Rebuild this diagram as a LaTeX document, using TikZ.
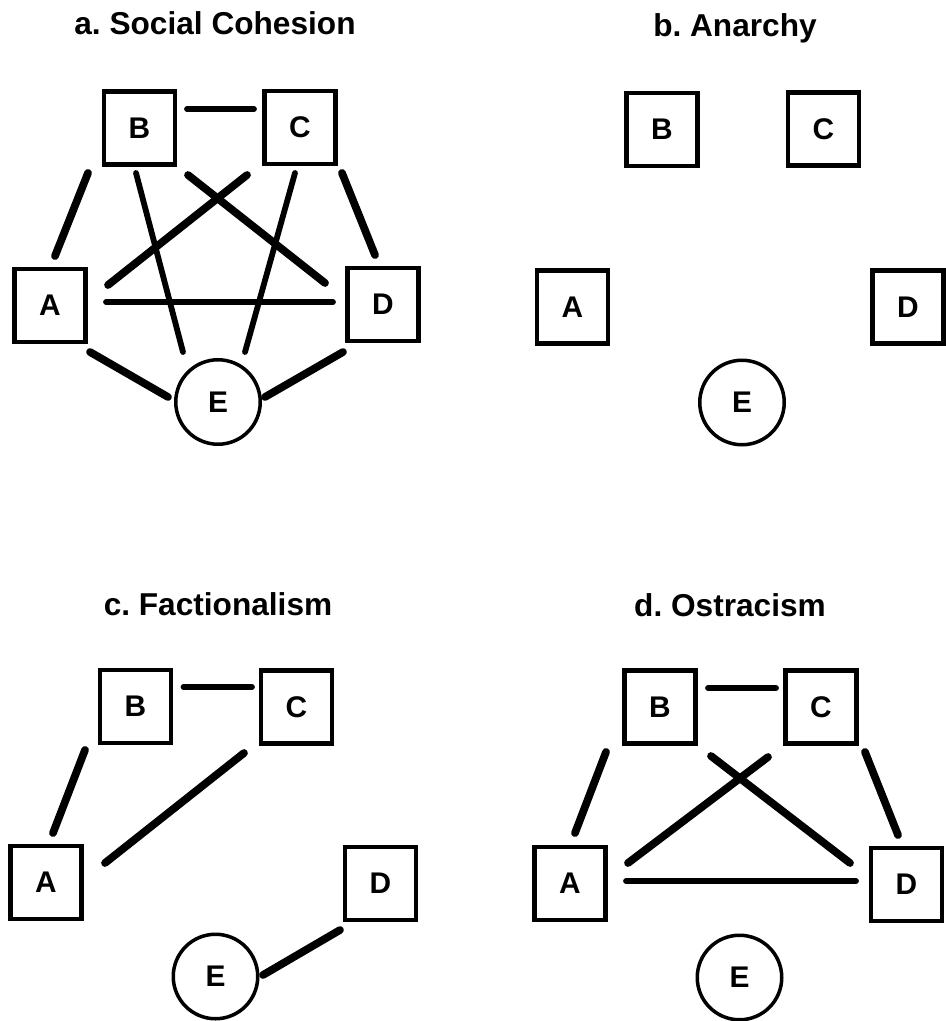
\documentclass[tikz,border=0pt]{standalone}
\usepackage{fontspec}
\setmainfont{Liberation Sans}
\usetikzlibrary{calc}
\frenchspacing

\begin{document}
\begin{tikzpicture}
    [
    x=0.02cm,
    y=-0.02cm,
    actor/.style={
        rectangle,
        draw=black,
        line width=2.8pt,
        minimum width=1.42cm,
        minimum height=1.46cm,
        inner sep=0pt,
        font=\bfseries\fontsize{17}{18}\selectfont
    },
    ego/.style={
        circle,
        draw=black,
        line width=2pt,
        minimum size=1.69cm,
        inner sep=0pt,
        font=\bfseries\fontsize{17}{18}\selectfont
    },
    heading/.style={anchor=base, font=\bfseries\fontsize{18}{20}\selectfont},
    tie/.style={line width=3.3pt, line cap=round},
    strongtie/.style={line width=4.4pt, line cap=round}
    ]

    \useasboundingbox (0,0) rectangle (946,1021);
    \fill[white] (0,0) rectangle (946,1021);

% a. Social Cohesion
    \node[heading] (aTitle) at (215,34) {a. Social Cohesion};
    \node[actor] (aB) at (139.5,128) {B};
    \node[actor] (aC) at (300,127.5) {C};
    \node[actor] (aA) at (50,305.5) {A};
    \node[actor] (aD) at (383,304.5) {D};
    \node[ego] (aE) at (218,402) {E};

    \draw[tie] ($(aB)+(47.5,-19)$) -- ($(aC)+(-46,-18.5)$);
    \draw[strongtie] ($(aB)+(-51.5,45)$) -- ($(aA)+(5,-49.5)$);
    \draw[tie] ($(aB)+(-3.5,45)$) -- ($(aE)+(-35,-50)$);
    \draw[strongtie] ($(aB)+(48.5,47)$) -- ($(aD)+(-58,-21.5)$);
    \draw[strongtie] ($(aC)+(-53,47.5)$) -- ($(aA)+(58,-20.5)$);
    \draw[tie] ($(aC)+(-5,45.5)$) -- ($(aE)+(27,-50)$);
    \draw[strongtie] ($(aC)+(42,45.5)$) -- ($(aD)+(-8,-49.5)$);
    \draw[tie] ($(aA)+(56,-3.5)$) -- ($(aD)+(-50,-2.5)$);
    \draw[strongtie] ($(aA)+(40,46.5)$) -- ($(aE)+(-50,-5)$);
    \draw[strongtie] ($(aD)+(-40,47.5)$) -- ($(aE)+(47,-5)$);

% b. Anarchy
    \node[heading] (bTitle) at (735,36) {b. Anarchy};
    \node[actor] (bB) at (662,129.5) {B};
    \node[actor] (bC) at (823.5,129) {C};
    \node[actor] (bA) at (572.5,307) {A};
    \node[actor] (bD) at (908,307) {D};
    \node[ego] (bE) at (742,402.5) {E};

% c. Factionalism
    \node[heading] (cTitle) at (218,615) {c. Factionalism};
    \node[actor] (cB) at (135.5,706.5) {B};
    \node[actor] (cC) at (296.5,707) {C};
    \node[actor] (cA) at (46,882.5) {A};
    \node[actor] (cD) at (380.5,883.5) {D};
    \node[ego] (cE) at (215.5,976.5) {E};

    \draw[tie] ($(cB)+(48,-19.5)$) -- ($(cC)+(-44.5,-20)$);
    \draw[strongtie] ($(cB)+(-50.5,43.5)$) -- ($(cA)+(7,-49.5)$);
    \draw[strongtie] ($(cC)+(-52.5,46)$) -- ($(cA)+(59,-19.5)$);
    \draw[strongtie] ($(cD)+(-40.5,46.5)$) -- ($(cE)+(47.5,-1.5)$);

% d. Ostracism
    \node[heading] (dTitle) at (730,616) {d. Ostracism};
    \node[actor] (dB) at (660,707) {B};
    \node[actor] (dC) at (821,707) {C};
    \node[actor] (dA) at (570,883.5) {A};
    \node[actor] (dD) at (906.5,884.5) {D};
    \node[ego] (dE) at (739.5,977.5) {E};

    \draw[tie] ($(dB)+(48,-19)$) -- ($(dC)+(-45,-19)$);
    \draw[strongtie] ($(dB)+(-54,45)$) -- ($(dA)+(5,-50.5)$);
    \draw[strongtie] ($(dC)+(-53,50)$) -- ($(dA)+(58,-20.5)$);
    \draw[strongtie] ($(dB)+(51,49)$) -- ($(dD)+(-56.5,-21.5)$);
    \draw[strongtie] ($(dC)+(44,45)$) -- ($(dD)+(-8.5,-49.5)$);
    \draw[tie] ($(dA)+(56,-2.5)$) -- ($(dD)+(-50.5,-3.5)$);

\end{tikzpicture}
\end{document}
